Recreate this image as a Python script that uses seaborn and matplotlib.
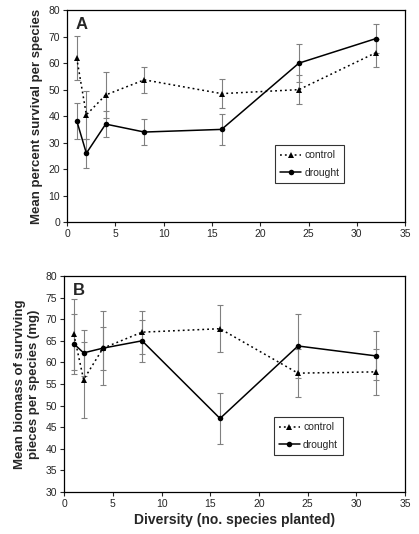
import pandas as pd
import matplotlib
matplotlib.use("Agg")
import matplotlib.pyplot as plt
import seaborn as sns
import numpy as np

# values
diversity = [1, 2, 4, 8, 16, 24, 32]

surv_control = [62, 40.5, 48, 53.7, 48.5, 50, 64]
surv_control_err = [8.2, 9, 8.7, 5, 5.5, 5.5, 5.3]
surv_drought = [38.3, 26, 37, 34, 35, 60, 69.3]
surv_drought_err = [6.8, 5.5, 5, 4.8, 5.9, 7.3, 5.5]

bio_control = [66.5, 56, 63.3, 67, 67.8, 57.5, 57.8]
bio_control_err = [8.3, 8.8, 8.6, 5, 5.5, 5.5, 5.3]
bio_drought = [64.3, 62.2, 63.3, 65, 47, 63.8, 61.5]
bio_drought_err = [7, 5.4, 5, 4.9, 6, 7.5, 5.7]

sns.set_style("white")
plt.rcParams["font.family"] = ["Liberation Sans", "DejaVu Sans"]

fig = plt.figure(figsize=(4.19, 5.34), dpi=100)
axA = fig.add_axes([0.160, 0.584, 0.807, 0.397])
axB = fig.add_axes([0.153, 0.079, 0.814, 0.404])


def panel(ax, ctrl, ctrl_err, drt, drt_err, ylim, yticks, ylabel, letter, leg_y):
    df = pd.DataFrame({
        "x": diversity * 2,
        "y": ctrl + drt,
        "group": ["control"] * 7 + ["drought"] * 7,
    })
    ax.errorbar(diversity, ctrl, yerr=ctrl_err, fmt="none", ecolor="#808080",
                elinewidth=0.8, capsize=2, capthick=0.8, zorder=1)
    ax.errorbar(diversity, drt, yerr=drt_err, fmt="none", ecolor="#808080",
                elinewidth=0.8, capsize=2, capthick=0.8, zorder=1)
    sns.lineplot(data=df, x="x", y="y", hue="group", style="group",
                 palette={"control": "black", "drought": "black"},
                 dashes={"control": (1.2, 2), "drought": ""},
                 markers={"control": "^", "drought": "o"},
                 markersize=4, linewidth=1.1, markeredgewidth=0,
                 ax=ax, zorder=3)
    ax.set_xlim(0, 35)
    ax.set_ylim(*ylim)
    ax.set_xticks(range(0, 36, 5))
    ax.set_yticks(yticks)
    ax.tick_params(axis="both", labelsize=7.5, direction="out", length=3,
                   width=0.8, left=True, bottom=True, pad=2)
    for s in ax.spines.values():
        s.set_color("black")
        s.set_linewidth(0.9)
    ax.set_xlabel("")
    ax.set_ylabel(ylabel, fontsize=9.5, fontweight="bold", labelpad=4)
    ax.text(0.025, 0.97, letter, transform=ax.transAxes, fontsize=12,
            fontweight="bold", va="top", ha="left")
    leg = ax.legend(loc="upper left", bbox_to_anchor=(0.615, leg_y),
                    fontsize=7.5, frameon=True, fancybox=False,
                    edgecolor="black", handlelength=2.0, borderpad=0.5,
                    labelspacing=0.7, handletextpad=0.3, borderaxespad=0)
    leg.get_frame().set_linewidth(0.8)


panel(axA, surv_control, surv_control_err, surv_drought, surv_drought_err,
      (0, 80), range(0, 81, 10), "Mean percent survival per species", "A", 0.363)
panel(axB, bio_control, bio_control_err, bio_drought, bio_drought_err,
      (30, 80), range(30, 81, 5),
      "Mean biomass of surviving\npieces per species (mg)", "B", 0.346)
axB.set_xlabel("Diversity (no. species planted)", fontsize=10,
               fontweight="bold", labelpad=3)

fig.savefig("out.png", dpi=100)
